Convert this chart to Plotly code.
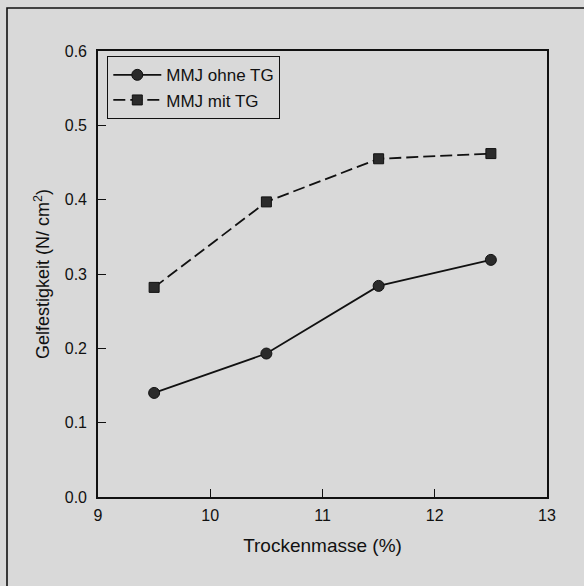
import plotly.graph_objects as go

# Gel strength vs. dry matter content
trockenmasse = [9.5, 10.5, 11.5, 12.5]
ohne_tg = [0.140, 0.193, 0.284, 0.319]
mit_tg = [0.282, 0.397, 0.455, 0.462]

x_ticks = [9, 10, 11, 12, 13]
y_ticks = [0.0, 0.1, 0.2, 0.3, 0.4, 0.5, 0.6]

W, H = 584, 586
L, R, T, B = 98, 37, 51, 89
BG = "#d9d9d9"
INK = "#111111"
FONT = "Liberation Sans, Arial, sans-serif"

fig = go.Figure()
fig.add_trace(go.Scatter(
    x=trockenmasse, y=ohne_tg, name="MMJ ohne TG", mode="lines+markers",
    line=dict(color=INK, width=1.8),
    marker=dict(symbol="circle", size=11, color="#2b2b2b",
                line=dict(color=INK, width=1)),
))
fig.add_trace(go.Scatter(
    x=trockenmasse, y=mit_tg, name="MMJ mit TG", mode="lines+markers",
    line=dict(color=INK, width=1.8, dash="12px,5px"),
    marker=dict(symbol="square", size=10, color="#2b2b2b",
                line=dict(color=INK, width=1)),
))

axis_common = dict(
    showgrid=False, zeroline=False, showline=True, mirror=True,
    linecolor=INK, linewidth=1.6, ticks="inside", ticklen=8,
    tickwidth=1.4, tickcolor=INK,
    tickfont=dict(family=FONT, size=16, color=INK),
)

fig.update_xaxes(
    range=[9, 13], tickvals=x_ticks, ticktext=[str(v) for v in x_ticks],
    title=dict(text="Trockenmasse (%)", font=dict(family=FONT, size=19, color=INK),
               standoff=16),
    ticklabelstandoff=3,
    **axis_common,
)
fig.update_yaxes(
    range=[0, 0.6], tickvals=y_ticks, ticktext=[f"{v:.1f}" for v in y_ticks],
    title=dict(text="Gelfestigkeit (N/ cm<sup>2</sup>)",
               font=dict(family=FONT, size=18, color=INK), standoff=10),
    ticklabelstandoff=6,
    **axis_common,
)

# page frame along the left and top edge
px = lambda v: (v - L) / (W - L - R)
py = lambda v: (H - B - v) / (H - T - B)
fig.add_shape(type="path", xref="paper", yref="paper",
              path=f"M {px(7)} {py(600)} L {px(7)} {py(8)} L {px(600)} {py(8)}",
              line=dict(color=INK, width=1.6))

fig.update_layout(
    width=W, height=H,
    margin=dict(l=L, r=R, t=T, b=B),
    paper_bgcolor=BG, plot_bgcolor=BG,
    font=dict(family=FONT, color=INK),
    showlegend=True,
    legend=dict(
        x=px(107), y=py(56), xanchor="left", yanchor="top",
        bgcolor=BG, bordercolor=INK, borderwidth=1.3,
        font=dict(family=FONT, size=17, color=INK),
        itemwidth=48, tracegroupgap=0,
    ),
)

fig.write_html("out.html")
